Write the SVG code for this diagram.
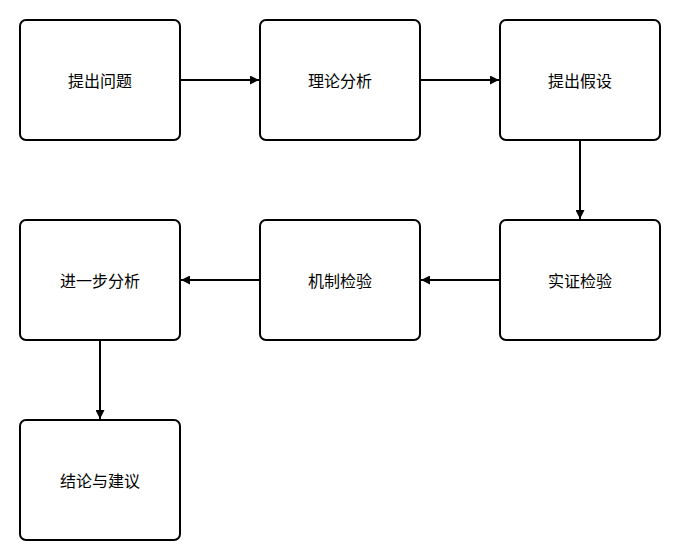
<svg xmlns="http://www.w3.org/2000/svg" width="680" height="560" viewBox="0 0 680 560">
<style>
.b{fill:#fff;stroke:#000;stroke-width:2}
.t{font-family:"Noto Sans CJK SC","Noto Sans",sans-serif;font-size:16px;fill:#000;text-anchor:middle;dominant-baseline:central}
.c{stroke:#000;stroke-width:2;fill:none;marker-end:url(#a)}
</style>
<defs><marker id="a" viewBox="0 0 10 10" refX="10" refY="5" markerWidth="10" markerHeight="9" markerUnits="userSpaceOnUse" orient="auto"><path d="M0,0L10,5L0,10z" fill="#000"/></marker></defs>
<rect width="680" height="560" fill="#fff"/>
<g id="n1"><rect class="b" x="20" y="20" width="160" height="120" rx="6"/><text class="t" x="100" y="80">提出问题</text></g>
<g id="n2"><rect class="b" x="260" y="20" width="160" height="120" rx="6"/><text class="t" x="340" y="80">理论分析</text></g>
<g id="n3"><rect class="b" x="500" y="20" width="160" height="120" rx="6"/><text class="t" x="580" y="80">提出假设</text></g>
<g id="n4"><rect class="b" x="500" y="220" width="160" height="120" rx="6"/><text class="t" x="580" y="280">实证检验</text></g>
<g id="n5"><rect class="b" x="260" y="220" width="160" height="120" rx="6"/><text class="t" x="340" y="280">机制检验</text></g>
<g id="n6"><rect class="b" x="20" y="220" width="160" height="120" rx="6"/><text class="t" x="100" y="280">进一步分析</text></g>
<g id="n7"><rect class="b" x="20" y="420" width="160" height="120" rx="6"/><text class="t" x="100" y="480">结论与建议</text></g>
<g id="connectors">
<path class="c" d="M180,80H259"/>
<path class="c" d="M420,80H499"/>
<path class="c" d="M580,140V219"/>
<path class="c" d="M500,280H421"/>
<path class="c" d="M260,280H181"/>
<path class="c" d="M100,340V419"/>
</g>
</svg>
